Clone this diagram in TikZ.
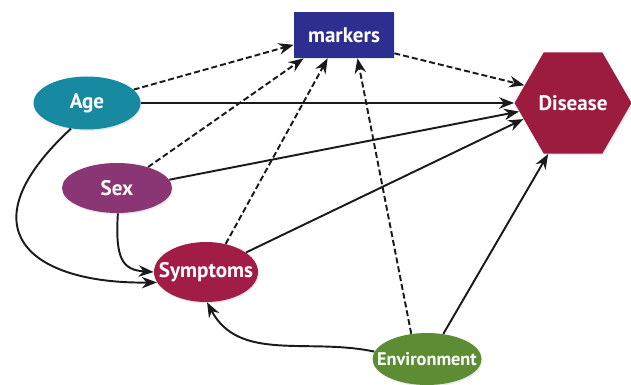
\documentclass[tikz,border=0pt]{standalone}
\usepackage{fontspec}
\setsansfont{PT Sans}
\usetikzlibrary{arrows.meta,shapes.geometric,shadows}
\definecolor{dagMarker}{HTML}{2C2F90}
\definecolor{dagDisease}{HTML}{9C1C40}
\definecolor{dagAge}{HTML}{178AA2}
\definecolor{dagSex}{HTML}{8A3574}
\definecolor{dagSymptom}{HTML}{A11D45}
\definecolor{dagEnv}{HTML}{5C8C34}
\definecolor{dagDark}{HTML}{1A1A1A}
\tikzset{
  dag node/.style={text=white, font=\sffamily\bfseries\fontsize{12}{14}\selectfont,
    inner sep=0pt, drop shadow={opacity=0.18, shadow xshift=0.6pt, shadow yshift=-0.8pt}},
  dag oval/.style={dag node, ellipse, inner xsep=-0.35cm},
  dag edge/.style={dagDark, line width=1.1pt, -{Stealth[length=3mm,width=2.3mm]}},
  dag dashed/.style={dag edge, dash pattern=on 3.4pt off 1.7pt},
}

\begin{document}
\begin{tikzpicture}[line cap=butt, line join=round]
  \useasboundingbox (0,0) rectangle (12.62,7.68);

  % ---- Nodes ----
  \node[dag node, rectangle, fill=dagMarker, minimum width=2.0cm, minimum height=0.92cm]
    (markers) at (6.88,6.98) {markers};
  \node[dag node, regular polygon, regular polygon sides=6,
        fill=dagDisease, minimum size=2.34cm]
    (disease) at (11.46,5.62) {Disease};
  \node[dag oval, fill=dagAge, minimum width=2.14cm, minimum height=1.06cm]
    (age) at (1.74,5.62) {Age};
  \node[dag oval, fill=dagSex, minimum width=2.2cm, minimum height=1.0cm]
    (sex) at (2.34,3.92) {Sex};
  \node[dag oval, fill=dagSymptom, minimum width=2.08cm, minimum height=1.2cm]
    (symptoms) at (4.12,2.24) {Symptoms};
  \node[dag oval, fill=dagEnv, minimum width=2.18cm, minimum height=1.04cm,
        font=\sffamily\bfseries\fontsize{10.4}{12}\selectfont]
    (env) at (8.54,0.5) {Environment};

  % ---- Dashed paths through the markers ----
  \draw[dag dashed] (age.16) -- (markers.191);
  \draw[dag dashed] (sex.34) -- (markers.210);
  \draw[dag dashed] (symptoms.55) -- (markers.235);
  \draw[dag dashed] (env.122) -- (markers.300);
  \draw[dag dashed] (markers.-20) -- (disease.160);

  % ---- Direct effects on disease ----
  \draw[dag edge] (age.east) -- (disease.west);
  \draw[dag edge] (sex.9) -- (disease.189);
  \draw[dag edge] (symptoms.26) -- (disease.198);
  \draw[dag edge] (env.57) -- (disease.244);

  % ---- Effects on symptoms ----
  \draw[dag edge] (env.172) to[out=168, in=-62] (symptoms.-88);
  \draw[dag edge] (sex.-88) .. controls (2.3,2.5) and (2.45,2.28) .. (symptoms.west);
  \draw[dag edge] (age.238) .. controls (-0.75,3.1) and (0.6,2.0) .. (symptoms.192);
\end{tikzpicture}
\end{document}
